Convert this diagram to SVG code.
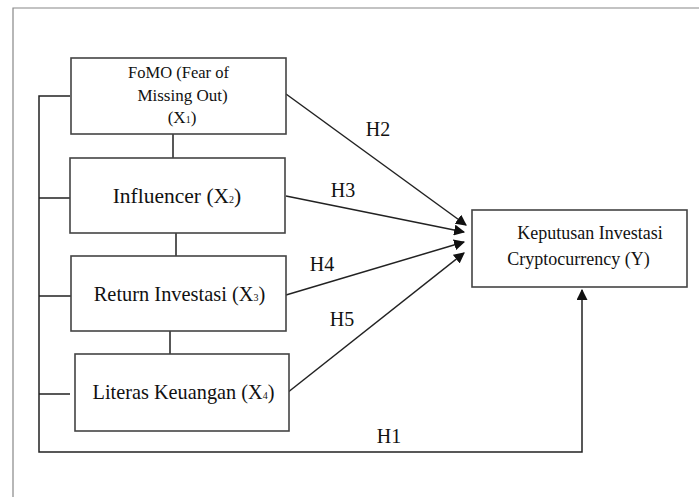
<svg xmlns="http://www.w3.org/2000/svg" width="699" height="497" viewBox="0 0 699 497">
<style>
.box{fill:#fff;stroke:#444;stroke-width:1.6}
.ln{fill:none;stroke:#222;stroke-width:1.5}
text{font-family:"Liberation Serif","Times New Roman","DejaVu Serif",serif;fill:#111}
.sub{font-size:10px}
</style>
<defs>
<marker id="ah" viewBox="0 0 10 10" refX="9" refY="5" markerWidth="11" markerHeight="11" markerUnits="userSpaceOnUse" orient="auto">
<path d="M0,0 L10,5 L0,10 z" fill="#111"/>
</marker>
</defs>
<rect width="699" height="497" fill="#fff"/>
<g id="frame">
<path d="M13,497 V8 H699" fill="none" stroke="#888" stroke-width="1.2"/>
</g>
<g id="connectors">
<path class="ln" d="M70,96 H39 V452 H582 V290" marker-end="url(#ah)"/>
<path class="ln" d="M39,198 H70 M39,296 H71 M39,394 H70"/>
<path class="ln" d="M173,134 V158 M176,233 V256 M170,331 V354"/>
<path class="ln" d="M286,94 L466,225" marker-end="url(#ah)"/>
<path class="ln" d="M286,196 L464,232" marker-end="url(#ah)"/>
<path class="ln" d="M286,295 L464,242" marker-end="url(#ah)"/>
<path class="ln" d="M287,393 L464,253" marker-end="url(#ah)"/>
<text font-family="Liberation Serif, Times New Roman, serif" x="378" y="136" font-size="20" text-anchor="middle">H2</text>
<text font-family="Liberation Serif, Times New Roman, serif" x="343" y="197" font-size="20" text-anchor="middle">H3</text>
<text font-family="Liberation Serif, Times New Roman, serif" x="322" y="271" font-size="20" text-anchor="middle">H4</text>
<text font-family="Liberation Serif, Times New Roman, serif" x="342" y="326" font-size="20" text-anchor="middle">H5</text>
<text font-family="Liberation Serif, Times New Roman, serif" x="389" y="443" font-size="20" text-anchor="middle">H1</text>
</g>
<g id="x1">
<rect class="box" x="71" y="58" width="215" height="76"/>
<text x="178.5" y="78" font-size="16.5" text-anchor="middle">FoMO (Fear of</text>
<text x="182.5" y="101" font-size="17" text-anchor="middle">Missing Out)</text>
<text x="182" y="123" font-size="17" text-anchor="middle">(X<tspan class="sub">1</tspan>)</text>
</g>
<g id="x2">
<rect class="box" x="70" y="158" width="215" height="75"/>
<text x="177" y="203" font-size="21.5" text-anchor="middle">Influencer (X<tspan class="sub" font-size="11">2</tspan>)</text>
</g>
<g id="x3">
<rect class="box" x="71" y="256" width="215" height="75"/>
<text x="179.5" y="300.5" font-size="20.4" text-anchor="middle">Return Investasi (X<tspan class="sub">3</tspan>)</text>
</g>
<g id="x4">
<rect class="box" x="75" y="354" width="214" height="77"/>
<text x="183.5" y="399" font-size="20.3" text-anchor="middle">Literas Keuangan (X<tspan class="sub">4</tspan>)</text>
</g>
<g id="y">
<rect class="box" x="472" y="210" width="215" height="77"/>
<text x="590" y="239" font-size="18" text-anchor="middle">Keputusan Investasi</text>
<text x="578.5" y="265" font-size="18" text-anchor="middle">Cryptocurrency (Y)</text>
</g>
</svg>
